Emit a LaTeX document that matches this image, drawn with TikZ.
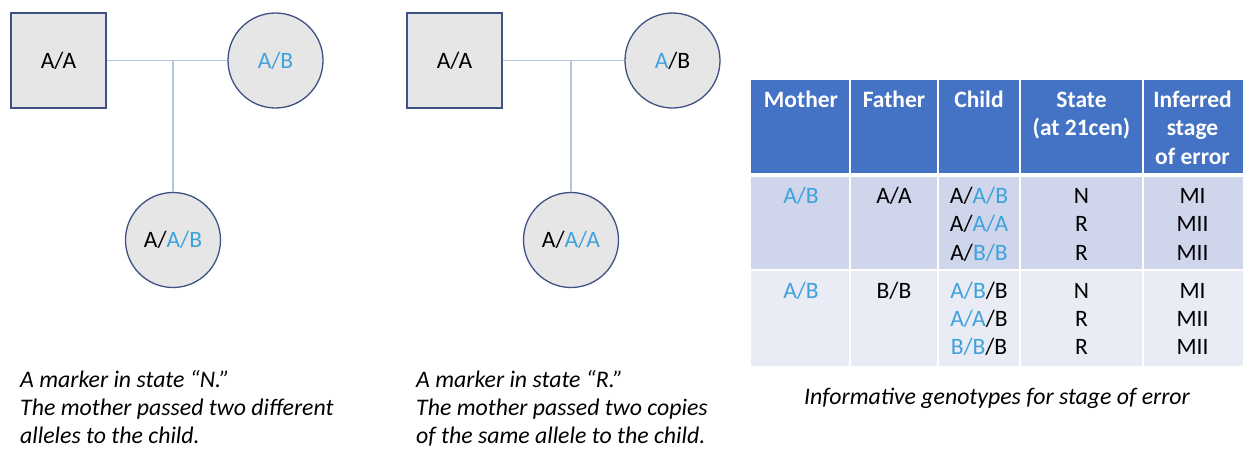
\documentclass[tikz,border=0pt]{standalone}
\usepackage{fontspec}
\setmainfont{Carlito}
\definecolor{ab}{HTML}{3FA2DD}
\definecolor{outl}{HTML}{3F5185}
\definecolor{pfill}{HTML}{E6E6E6}
\definecolor{linec}{HTML}{B3C3DE}
\definecolor{hdr}{HTML}{4472C4}
\definecolor{rowa}{HTML}{CFD5EA}
\definecolor{rowb}{HTML}{E9EBF5}
\begin{document}
\begin{tikzpicture}[x=1pt,y=-1pt]
\tikzset{
  person/.style={draw=outl, fill=pfill, line width=1.3pt, minimum size=95pt, inner sep=0pt, font=\fontsize{23.5}{28}\selectfont},
  male/.style={person, rectangle},
  female/.style={person, circle},
  link/.style={draw=linec, line width=1.1pt},
  captxt/.style={anchor=base west, inner sep=0pt, font=\fontsize{23.8}{28}\selectfont\itshape},
  hdtxt/.style={anchor=base, inner sep=0pt, text=white, font=\fontsize{23.5}{28}\selectfont\bfseries},
  cell/.style={anchor=base, inner sep=0pt, font=\fontsize{23.5}{28}\selectfont},
  grid/.style={draw=white, line width=2pt}
}
\useasboundingbox (0,0) rectangle (1244,450);

% pedigree 1
\node[male] (f1) at (58.5,60.5) {A/A};
\node[female] (m1) at (275.5,60.5) {\textcolor{ab}{A/B}};
\coordinate (j1) at (173,60.5);
\node[female] (c1) at (173,240) {A/\textcolor{ab}{A/B}};
\draw[link] (f1.east) -- (m1.west);
\draw[link] (j1) -- (c1.north);

% pedigree 2
\node[male] (f2) at (454.5,60.5) {A/A};
\node[female] (m2) at (672.5,60.5) {\textcolor{ab}{A}/B};
\coordinate (j2) at (571,60.5);
\node[female] (c2) at (571,240) {A/\textcolor{ab}{A/A}};
\draw[link] (f2.east) -- (m2.west);
\draw[link] (j2) -- (c2.north);

% captions
\node[captxt] (t1a) at (20,387) {A marker in state “N.”};
\node[captxt] (t1b) at (20,415) {The mother passed two different};
\node[captxt] (t1c) at (20,443) {alleles to the child.};
\node[captxt] (t2a) at (416,387) {A marker in state “R.”};
\node[captxt] (t2b) at (416,415) {The mother passed two copies};
\node[captxt] (t2c) at (416,443) {of the same allele to the child.};
\node[captxt, anchor=base] (t3) at (997,404) {Informative genotypes for stage of error};

% table backgrounds
\fill[hdr] (751,80) rectangle (1243,175);
\fill[rowa] (751,175) rectangle (1243,270);
\fill[rowb] (751,270) rectangle (1243,366);
\foreach \x in {850,938,1020,1143} \draw[grid] (\x,79) -- (\x,367);
\draw[grid, line width=4pt] (750,175) -- (1244,175);
\draw[grid] (750,270) -- (1244,270);

% header
\node[hdtxt] (hm) at (801,107) {Mother};
\node[hdtxt] (hf) at (894,107) {Father};
\node[hdtxt] (hc) at (979,107) {Child};
\node[hdtxt] (hs1) at (1081.5,107) {State};
\node[hdtxt] (hs2) at (1081.5,135) {(at 21cen)};
\node[hdtxt] (hi1) at (1192.5,107) {Inferred};
\node[hdtxt] (hi2) at (1192.5,135) {stage};
\node[hdtxt] (hi3) at (1192.5,164) {of error};

% row 1
\node[cell] (r1m) at (801,203) {\textcolor{ab}{A/B}};
\node[cell] (r1f) at (894,203) {A/A};
\node[cell] (r1c1) at (979,203) {A/\textcolor{ab}{A/B}};
\node[cell] (r1c2) at (979,231) {A/\textcolor{ab}{A/A}};
\node[cell] (r1c3) at (979,260) {A/\textcolor{ab}{B/B}};
\node[cell] (r1s1) at (1081.5,203) {N};
\node[cell] (r1s2) at (1081.5,231) {R};
\node[cell] (r1s3) at (1081.5,260) {R};
\node[cell] (r1i1) at (1192.5,203) {MI};
\node[cell] (r1i2) at (1192.5,231) {MII};
\node[cell] (r1i3) at (1192.5,260) {MII};

% row 2
\node[cell] (r2m) at (801,298) {\textcolor{ab}{A/B}};
\node[cell] (r2f) at (894,298) {B/B};
\node[cell] (r2c1) at (979,298) {\textcolor{ab}{A/B}/B};
\node[cell] (r2c2) at (979,326) {\textcolor{ab}{A/A}/B};
\node[cell] (r2c3) at (979,354) {\textcolor{ab}{B/B}/B};
\node[cell] (r2s1) at (1081.5,298) {N};
\node[cell] (r2s2) at (1081.5,326) {R};
\node[cell] (r2s3) at (1081.5,354) {R};
\node[cell] (r2i1) at (1192.5,298) {MI};
\node[cell] (r2i2) at (1192.5,326) {MII};
\node[cell] (r2i3) at (1192.5,354) {MII};
\end{tikzpicture}
\end{document}
